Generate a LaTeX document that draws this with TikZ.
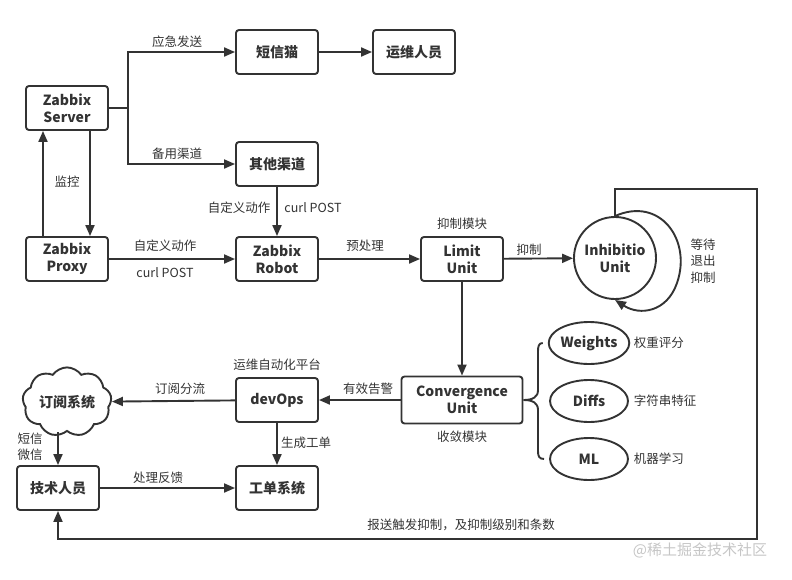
\documentclass[tikz,border=0pt]{standalone}
\usepackage{fontspec}
\setmainfont{Noto Sans CJK SC}
\usetikzlibrary{arrows.meta,shapes.geometric,shapes.symbols}
\definecolor{ln}{HTML}{333333}
\begin{document}
\begin{tikzpicture}[x=1pt,y=-1pt,line width=1.9pt,
  box/.style={draw=ln,rounded corners=3pt,minimum width=82pt,minimum height=44pt,
    font=\fontsize{14}{17}\selectfont\bfseries,align=center,text=ln,inner sep=0pt},
  oval/.style={draw=ln,ellipse,minimum width=78pt,minimum height=42pt,
    font=\fontsize{14}{17}\selectfont\bfseries,text=ln,inner sep=0pt},
  lbl/.style={font=\fontsize{12.5}{16.5}\selectfont,text=ln,align=center,inner sep=0pt},
  arr/.style={draw=ln,-{Triangle[length=11pt,width=9pt]}},
  plain/.style={draw=ln}]
\useasboundingbox (0,0) rectangle (792,579);
% nodes
\node[box] (srv) at (67,108) {Zabbix\\Server};
\node[box] (sms) at (277,52) {短信猫};
\node[box] (ops) at (414,52) {运维人员};
\node[box] (oth) at (277,164) {其他渠道};
\node[box] (prx) at (67,259) {Zabbix\\Proxy};
\node[box] (rob) at (277,259) {Zabbix\\Robot};
\node[box] (lim) at (462,259) {Limit\\Unit};
\node[draw=ln,circle,minimum size=82pt,inner sep=0pt,align=center,text=ln,
  font=\fontsize{14}{17}\selectfont\bfseries] (inh) at (615,258) {Inhibitio\\Unit};
\node[box,minimum width=121pt,minimum height=47pt] (cnv) at (462,400) {Convergence\\Unit};
\node[box] (dev) at (277,400) {devOps};
\node[box] (tkt) at (277,488) {工单系统};
\node[box] (tec) at (58,488) {技术人员};
\node[draw=ln,cloud,cloud puffs=9,cloud puff arc=110,aspect=1.35,minimum width=89pt,minimum height=65pt,
  inner sep=0pt,text=ln,font=\fontsize{14}{17}\selectfont\bfseries] (sub) at (67,402) {订阅系统};
\node[oval] (wt) at (589,343) {Weights};
\node[oval] (df) at (589,401) {Diffs};
\node[oval] (ml) at (589,459) {ML};
% coordinates
\coordinate (br) at (128,108);
\coordinate (fb1) at (757,189);
\coordinate (fb2) at (757,539);
% connectors
\draw[plain] (srv.east) -- (br);
\draw[arr] (br) |- (sms.west);
\draw[arr] (br) |- (oth.west);
\draw[arr] (sms) -- (ops);
\draw[arr] ([xshift=-24pt]prx.north) -- ([xshift=-24pt]srv.south);
\draw[arr] ([xshift=23pt]srv.south) -- ([xshift=23pt]prx.north);
\draw[arr] (oth) -- (rob);
\draw[arr] (prx) -- (rob);
\draw[arr] (rob) -- (lim);
\draw[arr] (lim) -- (inh);
\draw[arr] (lim) -- (cnv);
\draw[arr] (cnv) -- (dev);
\draw[arr] (dev) -- (sub);
\draw[arr] (dev) -- (tkt);
\draw[arr] (tec.north |- sub.south) -- (tec.north);
\draw[arr] (tec) -- (tkt);
\draw[arr] (inh.north) |- (fb1) -- (fb2) -| (tec.south);
\draw[arr] (inh.north) .. controls (660,196) and (692,240) .. (677,283)
   .. controls (667,312) and (640,316) .. (inh.south);
\draw[plain] ([xshift=-5pt]wt.west) .. controls (539,343) and (538,346) .. (538,351) -- (538,390)
   .. controls (538,397) and (533,400) .. (cnv.east)
   .. controls (533,400) and (538,403) .. (538,410) -- (538,451)
   .. controls (538,456) and (539,459) .. ([xshift=-5pt]ml.west);
% labels
\node[lbl] (l1) at (177,42) {应急发送};
\node[lbl] (l2) at (177,154) {备用渠道};
\node[lbl] (l3) at (67,182) {监控};
\node[lbl] (l4) at (239,208) {自定义动作};
\node[lbl] (l5) at (313,208) {curl POST};
\node[lbl] (l6) at (165,246) {自定义动作};
\node[lbl] (l7) at (165,273) {curl POST};
\node[lbl] (l8) at (365,246) {预处理};
\node[lbl] (l9) at (462,224) {抑制模块};
\node[lbl] (l10) at (529,250) {抑制};
\node[lbl] (l11) at (703,261) {等待\\退出\\抑制};
\node[lbl] (l12) at (277,365) {运维自动化平台};
\node[lbl] (l13) at (180,389) {订阅分流};
\node[lbl] (l14) at (368,389) {有效告警};
\node[lbl] (l15) at (306,443) {生成工单};
\node[lbl] (l16) at (30,447) {短信\\微信};
\node[lbl] (l17) at (158,478) {处理反馈};
\node[lbl] (l18) at (462,437) {收敛模块};
\node[lbl,anchor=west] (l19) at (633,343) {权重评分};
\node[lbl,anchor=west] (l20) at (633,401) {字符串特征};
\node[lbl,anchor=west] (l21) at (633,459) {机器学习};
\node[lbl] (l22) at (461,525) {报送触发抑制，及抑制级别和条数};
\node[lbl,text=gray!45,font=\fontsize{15}{18}\selectfont] (wm) at (700,550) {@稀土掘金技术社区};
\end{tikzpicture}
\end{document}
